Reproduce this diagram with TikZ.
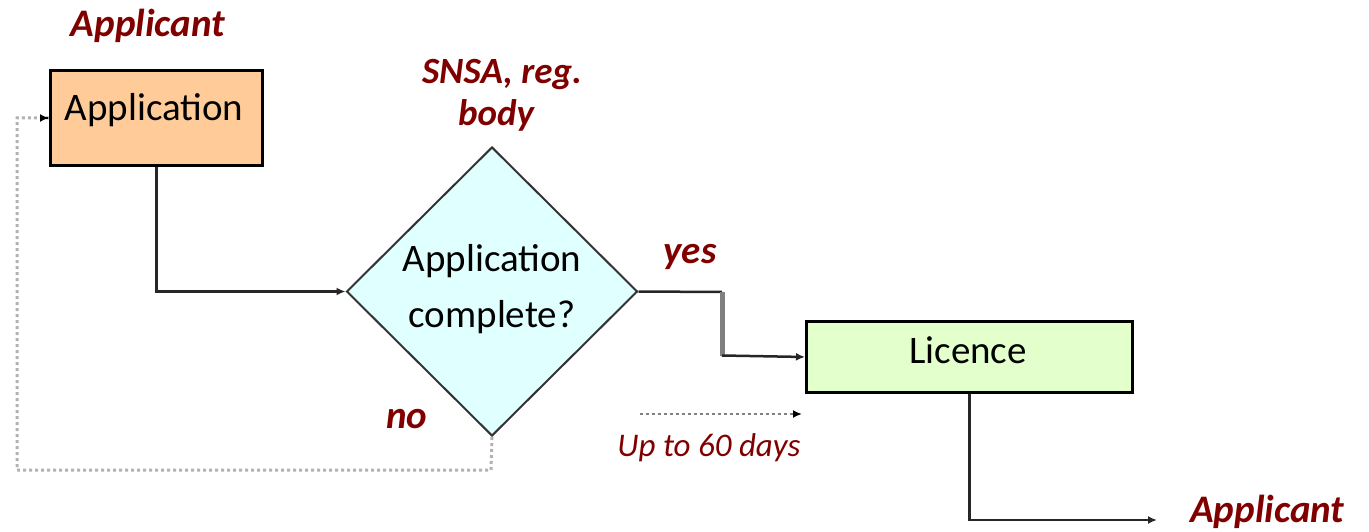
\documentclass[tikz,border=0pt]{standalone}
\usepackage{fontspec}
\setmainfont{Carlito}
\usetikzlibrary{shapes.geometric,arrows.meta}
\definecolor{lblred}{HTML}{800000}
\definecolor{peach}{HTML}{FFCC99}
\definecolor{lcyan}{HTML}{E0FFFF}
\definecolor{lgreen}{HTML}{E2FFCC}
\tikzset{
  boxstyle/.style={draw=black,line width=3pt,inner sep=0pt},
  bodytext/.style={font=\fontsize{39}{56}\selectfont},
  lbl/.style={text=lblred,font=\fontsize{39}{42}\selectfont\bfseries\itshape,inner sep=0pt,align=center},
  conn/.style={draw=black!85,line width=2.5pt},
  tip/.style={-{Latex[length=9pt,width=8pt]}},
  fb/.style={draw=black!30,line width=3pt,dash pattern=on 3pt off 3pt},
}
\begin{document}
\begin{tikzpicture}[x=1pt,y=-1pt]
\useasboundingbox (0,0) rectangle (1369,532);
% nodes
\node[boxstyle,fill=peach,minimum width=212pt,minimum height=95pt,anchor=north west] (app) at (49,69) {};
\node[bodytext,anchor=base] (apptxt) at (154,121) {Application};
\node[draw=black!80,line width=2pt,fill=lcyan,diamond,minimum width=291pt,minimum height=289pt,inner sep=0pt] (dec) at (492,291.5) {};
\node[bodytext,anchor=base] (dectxt1) at (492,271) {Application};
\node[bodytext,anchor=base] (dectxt2) at (492,327) {complete?};
\node[boxstyle,fill=lgreen,minimum width=326pt,minimum height=71pt,anchor=north west] (lic) at (805,320) {};
\node[bodytext,anchor=base] (lictxt) at (968,363) {Licence};
% labels
\node[lbl,anchor=base] (l1) at (148,37) {Applicant};
\node[lbl,anchor=base,font=\fontsize{37}{44}\selectfont\bfseries\itshape] (l2a) at (502,84) {SNSA, reg.};
\node[lbl,anchor=base,font=\fontsize{37}{44}\selectfont\bfseries\itshape] (l2b) at (496,126) {body};
\node[lbl,anchor=base] (l3) at (690,263) {yes};
\node[lbl,anchor=base] (l4) at (407,428) {no};
\node[lbl,anchor=base,font=\fontsize{33}{40}\selectfont\itshape] (l5) at (709,456) {Up to 60 days};
\node[lbl,anchor=base west] (l6) at (1190,522) {Applicant};
% coordinates
\coordinate (ym) at (722,292);
\coordinate (yb) at (722,355.5);
\coordinate (endA) at (1157,520);
\coordinate (fb1) at (491,470);
\coordinate (fb2) at (17,470);
\coordinate (d1) at (640,414);
\coordinate (d2) at (802,414);
% connectors
\draw[conn,tip] (app.south) |- (dec.west);
\draw[conn] (dec.east) -- (ym);
\draw[draw=black!50,line width=5pt] (ym) -- (yb);
\draw[conn,tip] (yb) -- (lic.west);
\draw[conn,tip] (lic.south) |- (endA);
\draw[fb] (dec.south) -- (fb1) -- (fb2) |- (app.west);
\draw[draw=black,line width=2pt,-{Latex[length=9pt,width=8pt]}] ([xshift=-1pt]app.west) -- (app.west);
\draw[draw=black!50,line width=2.5pt,dash pattern=on 3pt off 3pt] (d1) -- ([xshift=-6pt]d2);
\draw[draw=black,line width=2pt,-{Latex[length=9pt,width=8pt]}] ([xshift=-7pt]d2) -- (d2);
\end{tikzpicture}
\end{document}
